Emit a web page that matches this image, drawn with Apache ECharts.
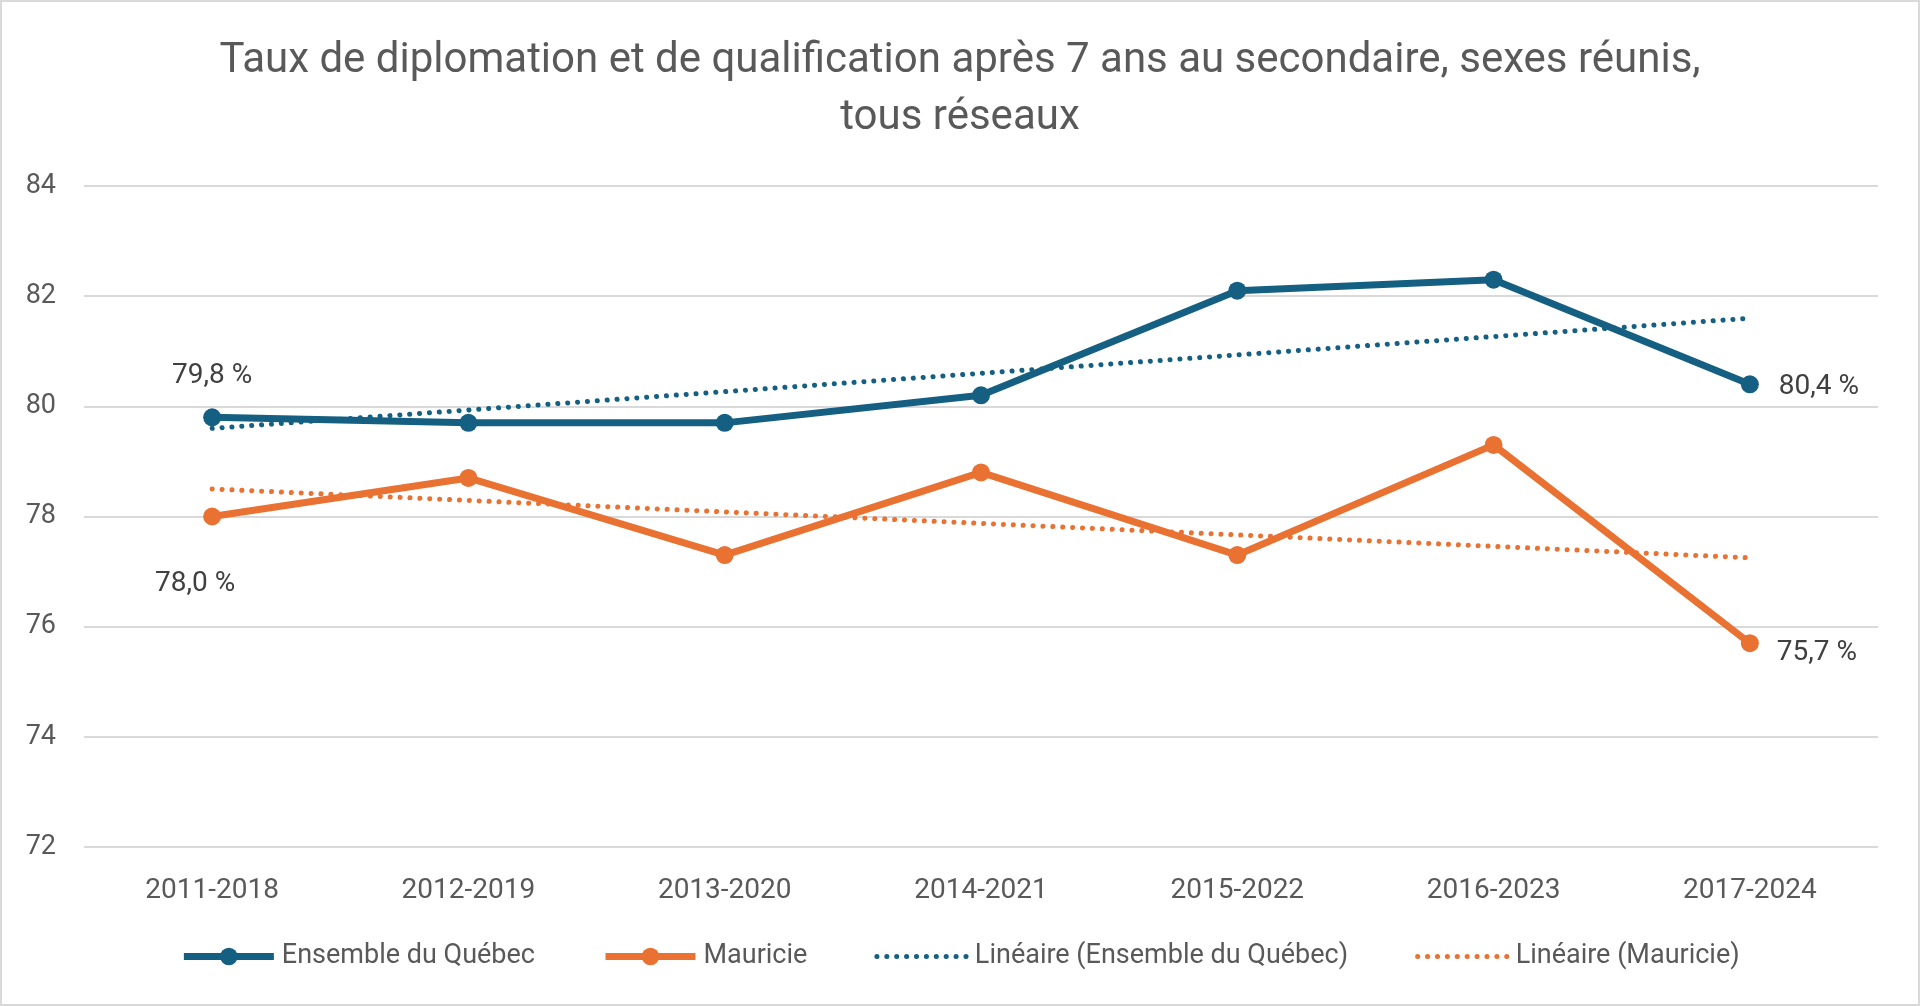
<!DOCTYPE html>
<html>
<head>
<meta charset="utf-8">
<script src="https://cdn.jsdelivr.net/npm/echarts@6/dist/echarts.min.js"></script>
<style>
  html, body { margin: 0; padding: 0; background: #fff; }
  #chart { width: 1920px; height: 1006px; box-sizing: border-box; border: 2px solid #d9d9d9; }
</style>
</head>
<body>
<div id="chart"></div>
<script>
// values
const periods = ["2011-2018", "2012-2019", "2013-2020", "2014-2021", "2015-2022", "2016-2023", "2017-2024"];
const quebec = [79.8, 79.7, 79.7, 80.2, 82.1, 82.3, 80.4];
const mauricie = [78.0, 78.7, 77.3, 78.8, 77.3, 79.3, 75.7];
// trend lines: only their end points, as read on the picture
const trendQuebec = [79.6, null, null, null, null, null, 81.6];
const trendMauricie = [78.5, null, null, null, null, null, 77.25];
const yTicks = { min: 72, max: 84, step: 2 };

const BLUE = "#156082";
const ORANGE = "#E97132";
const FONT = "Roboto";
const DOTS = [0.1, 9.8];

const fmt = (v) => v.toFixed(1).replace(".", ",") + " %";

// label settings for first / last point of each series
const labelsQuebec = {
  0: { position: "top", distance: 18 },
  6: { position: "right", distance: 20, offset: [0, 3] },
};
const labelsMauricie = {
  0: { position: "bottom", distance: 44, offset: [-17, 0] },
  6: { position: "right", distance: 18, offset: [0, 10] },
};

function withLabels(values, labels) {
  return values.map((v, i) => {
    if (!labels[i]) return v;
    return {
      value: v,
      label: Object.assign({ show: true, formatter: (p) => fmt(p.value) }, labels[i]),
    };
  });
}

const chart = echarts.init(document.getElementById("chart"));

const option = {
  animation: false,
  textStyle: { fontFamily: FONT },
  title: {
    text: "Taux de diplomation et de qualification après 7 ans au secondaire, sexes réunis,\ntous réseaux",
    left: "center",
    top: 26,
    textStyle: {
      fontFamily: FONT,
      fontSize: 42,
      fontWeight: "normal",
      color: "#595959",
      lineHeight: 57,
    },
  },
  grid: { left: 82, right: 40, top: 184, bottom: 157, containLabel: false },
  legend: {
    bottom: 29,
    left: "center",
    itemWidth: 90,
    itemHeight: 22,
    itemGap: 67,
    textStyle: { fontFamily: FONT, fontSize: 27, color: "#595959", padding: [0, 0, 0, 3] },
    data: [
      { name: "Ensemble du Québec", lineStyle: { width: 7 } },
      { name: "Mauricie", lineStyle: { width: 7 } },
      { name: "Linéaire (Ensemble du Québec)", itemStyle: { opacity: 0 }, lineStyle: { width: 5, type: DOTS, cap: "round" } },
      { name: "Linéaire (Mauricie)", itemStyle: { opacity: 0 }, lineStyle: { width: 5, type: DOTS, cap: "round" } },
    ],
  },
  xAxis: {
    type: "category",
    data: periods,
    boundaryGap: true,
    axisLine: { show: false },
    axisTick: { show: false },
    axisLabel: { fontFamily: FONT, fontSize: 28, color: "#595959", margin: 30 },
  },
  yAxis: {
    type: "value",
    min: yTicks.min,
    max: yTicks.max,
    interval: yTicks.step,
    axisLine: { show: false },
    axisTick: { show: false },
    axisLabel: { fontFamily: FONT, fontSize: 27, color: "#595959", margin: 28 },
    splitLine: { lineStyle: { color: "#d9d9d9", width: 2 } },
  },
  series: [
    {
      name: "Ensemble du Québec",
      type: "line",
      data: withLabels(quebec, labelsQuebec),
      color: BLUE,
      lineStyle: { width: 7, color: BLUE },
      symbol: "circle",
      symbolSize: 18,
      itemStyle: { color: BLUE },
      label: { fontFamily: FONT, fontSize: 28, color: "#404040" },
    },
    {
      name: "Mauricie",
      type: "line",
      data: withLabels(mauricie, labelsMauricie),
      color: ORANGE,
      lineStyle: { width: 7, color: ORANGE },
      symbol: "circle",
      symbolSize: 18,
      itemStyle: { color: ORANGE },
      label: { fontFamily: FONT, fontSize: 28, color: "#404040" },
    },
    {
      name: "Linéaire (Ensemble du Québec)",
      type: "line",
      data: trendQuebec,
      connectNulls: true,
      symbol: "none",
      color: BLUE,
      lineStyle: { width: 5, color: BLUE, type: DOTS, cap: "round" },
    },
    {
      name: "Linéaire (Mauricie)",
      type: "line",
      data: trendMauricie,
      connectNulls: true,
      symbol: "none",
      color: ORANGE,
      lineStyle: { width: 5, color: ORANGE, type: DOTS, cap: "round" },
    },
  ],
};

chart.setOption(option);
</script>
</body>
</html>
